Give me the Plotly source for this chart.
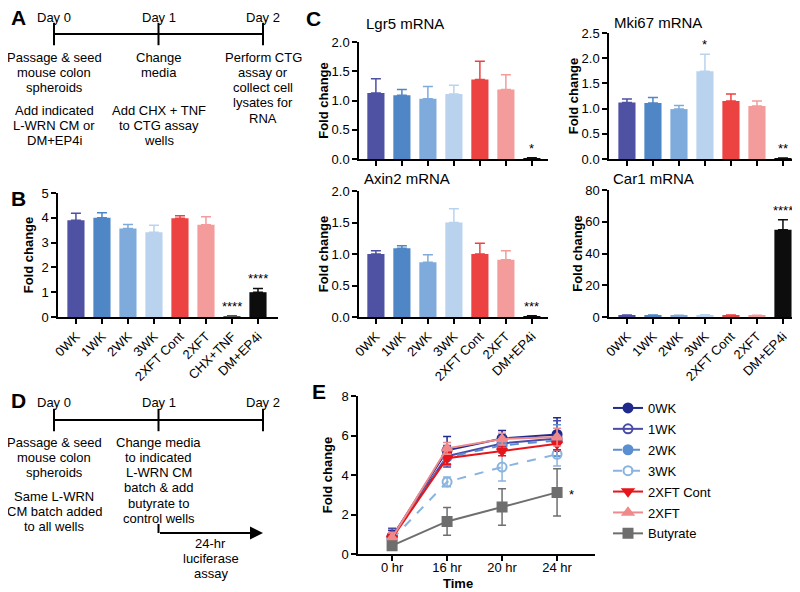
import plotly.graph_objects as go

W, H = 800, 592
OFF = 8  # page body margin the browser adds around the plot div
FONT = "Liberation Sans, Arial, sans-serif"

# ---- panel B: CTG viability ----
b_groups = ["0WK", "1WK", "2WK", "3WK", "2XFT Cont", "2XFT", "CHX+TNF", "DM+EP4i"]
b_mean = [3.9, 4.0, 3.57, 3.42, 3.98, 3.72, 0.03, 1.0]
b_err = [0.28, 0.2, 0.16, 0.28, 0.1, 0.32, 0.02, 0.15]
b_stars = ["", "", "", "", "", "", "****", "****"]
b_colors = ["#4f51a3", "#4f86c6", "#7eabdc", "#b9d3ef", "#ec4242", "#f39c9b", "#555555", "#0d0d0d"]

# ---- panel C: qPCR ----
c_groups = ["0WK", "1WK", "2WK", "3WK", "2XFT Cont", "2XFT", "DM+EP4i"]
c_colors = ["#4f51a3", "#4f86c6", "#7eabdc", "#b9d3ef", "#ec4242", "#f39c9b", "#0d0d0d"]
lgr5_mean = [1.13, 1.09, 1.03, 1.11, 1.36, 1.19, 0.01]
lgr5_err = [0.24, 0.1, 0.21, 0.15, 0.31, 0.25, 0.01]
lgr5_stars = ["", "", "", "", "", "", "*"]
mki67_mean = [1.12, 1.11, 0.99, 1.74, 1.15, 1.05, 0.01]
mki67_err = [0.07, 0.11, 0.07, 0.34, 0.14, 0.1, 0.01]
mki67_stars = ["", "", "", "*", "", "", "**"]
axin2_mean = [1.0, 1.09, 0.87, 1.5, 1.0, 0.91, 0.01]
axin2_err = [0.05, 0.04, 0.12, 0.22, 0.17, 0.14, 0.01]
axin2_stars = ["", "", "", "", "", "", "***"]
car1_mean = [1.0, 0.9, 0.8, 1.1, 1.0, 0.8, 55.0]
car1_err = [0.3, 0.3, 0.3, 0.3, 0.3, 0.3, 6.3]
car1_stars = ["", "", "", "", "", "", "****"]

# ---- panel E: luciferase time course ----
times = ["0 hr", "16 hr", "20 hr", "24 hr"]
e_names = ["0WK", "1WK", "2WK", "3WK", "2XFT Cont", "2XFT", "Butyrate"]
e_mean = [
    [0.85, 5.25, 5.85, 6.05],
    [0.9, 4.95, 5.6, 5.85],
    [0.8, 4.9, 5.5, 5.75],
    [0.75, 3.65, 4.4, 5.05],
    [0.8, 4.85, 5.22, 5.58],
    [0.82, 5.35, 5.82, 5.92],
    [0.42, 1.65, 2.38, 3.12],
]
e_err = [
    [0.35, 0.7, 0.4, 0.85],
    [0.4, 0.55, 0.35, 0.9],
    [0.3, 0.4, 0.3, 0.8],
    [0.3, 0.25, 0.7, 0.6],
    [0.2, 0.3, 0.25, 0.3],
    [0.25, 0.3, 0.3, 0.45],
    [0.2, 0.7, 0.93, 1.2],
]
e_colors = ["#1f2a8c", "#4a4aa8", "#5b8fd0", "#8ab4e0", "#e8141c", "#f08a8a", "#6e6e6e"]
e_symbols = ["circle", "circle-open", "circle", "circle-open", "triangle-down", "triangle-up", "square"]
e_dash = ["solid", "solid", "dash", "dash", "solid", "solid", "solid"]

# ---- timelines (A and D) ----
days = [0, 1, 2]
day_labels = ["Day 0", "Day 1", "Day 2"]
a_text = [
    (0, 57, ["Passage & seed", "mouse colon", "spheroids"]),
    (0, 110, ["Add indicated", "L-WRN CM or", "DM+EP4i"]),
    (1, 57, ["Change", "media"]),
    (1, 110, ["Add CHX + TNF", "to CTG assay", "wells"]),
    (2, 57, ["Perform CTG", "assay or", "collect cell", "lysates for", "RNA"]),
]
d_text = [
    (0, 442, ["Passage & seed", "mouse colon", "spheroids"]),
    (0, 496, ["Same L-WRN", "CM batch added", "to all wells"]),
    (1, 442, ["Change media", "to indicated", "L-WRN CM", "batch & add", "butyrate to", "control wells"]),
    (1.5, 543, ["24-hr", "luciferase", "assay"]),
]


# page pixel -> paper fraction
def px_x(a, b):
    return [(a - OFF) / W, (b - OFF) / W]


def px_y(top, bottom):
    return [1 - (bottom - OFF) / H, 1 - (top - OFF) / H]


fig = go.Figure()
annots = []


def bar_panel(groups, mean, err, colors, stars, xa, ya):
    for g, m, e, c, s in zip(groups, mean, err, colors, stars):
        fig.add_trace(go.Bar(
            x=[g], y=[m], width=0.66, marker=dict(color=c, line=dict(width=0)),
            error_y=dict(type="data", symmetric=False, array=[e], arrayminus=[0],
                         color=c, thickness=1.5, width=5),
            xaxis=xa, yaxis=ya, showlegend=False, hoverinfo="skip"))
        if s:
            annots.append(dict(x=g, y=m + e, xref=xa, yref=ya, text=s, showarrow=False,
                               yanchor="bottom", font=dict(size=13, color="black")))


bar_panel(b_groups, b_mean, b_err, b_colors, b_stars, "x", "y")
bar_panel(c_groups, lgr5_mean, lgr5_err, c_colors, lgr5_stars, "x2", "y2")
bar_panel(c_groups, mki67_mean, mki67_err, c_colors, mki67_stars, "x3", "y3")
bar_panel(c_groups, axin2_mean, axin2_err, c_colors, axin2_stars, "x4", "y4")
bar_panel(c_groups, car1_mean, car1_err, c_colors, car1_stars, "x5", "y5")

for name, m, e, c, sym, dsh in zip(e_names, e_mean, e_err, e_colors, e_symbols, e_dash):
    fig.add_trace(go.Scatter(
        x=times, y=m, name=name, mode="lines+markers",
        line=dict(color=c, width=2, dash=dsh),
        marker=dict(symbol=sym, size=9, color=c, line=dict(color=c, width=2)),
        error_y=dict(type="data", array=e, color=c, thickness=1.5, width=4),
        xaxis="x6", yaxis="y6", legendgroup=name))
annots.append(dict(x=times[-1], y=e_mean[-1][-1], xref="x6", yref="y6", text="*",
                   showarrow=False, xshift=14, yshift=-2, font=dict(size=13, color="black")))

# timeline drawings on a hidden axis whose y is page pixels
for top_y, line_y in [(17, 34), (402, 420)]:
    fig.add_trace(go.Scatter(x=[days[0], days[-1]], y=[line_y, line_y], mode="lines",
                             line=dict(color="black", width=2), xaxis="x7", yaxis="y7",
                             showlegend=False, hoverinfo="skip"))
    fig.add_trace(go.Scatter(x=days, y=[line_y] * 3, mode="markers",
                             marker=dict(symbol="line-ns", size=16, line=dict(color="black", width=2)),
                             xaxis="x7", yaxis="y7", showlegend=False, hoverinfo="skip"))
    for d, lab in zip(days, day_labels):
        annots.append(dict(x=d, y=top_y, xref="x7", yref="y7", text=lab, showarrow=False,
                           font=dict(size=13, color="black")))

for blocks in (a_text, d_text):
    for d, y0, lines in blocks:
        for i, ln in enumerate(lines):
            annots.append(dict(x=d, y=y0 + i * 15.3, xref="x7", yref="y7", text=ln,
                               showarrow=False, font=dict(size=13, color="black")))

# 24-hr arrow
fig.add_trace(go.Scatter(x=[days[1], days[1]], y=[524, 533], mode="lines",
                         line=dict(color="black", width=2), xaxis="x7", yaxis="y7",
                         showlegend=False, hoverinfo="skip"))
annots.append(dict(x=days[2], y=533, ax=days[1], ay=533, xref="x7", yref="y7",
                   axref="x7", ayref="y7", text="", showarrow=True, arrowhead=2,
                   arrowsize=1.3, arrowwidth=2, arrowcolor="black"))

# panel letters
for letter, lx, ly in [("A", 9, 18), ("B", 9, 199), ("C", 304, 19), ("D", 9, 400), ("E", 310, 391)]:
    annots.append(dict(x=(lx - OFF) / W, y=1 - (ly - OFF) / H, xref="paper", yref="paper",
                       text="<b>" + letter + "</b>", showarrow=False, xanchor="left",
                       yanchor="middle", font=dict(size=21, color="black")))

# C panel titles
for t, lx, ly in [("Lgr5 mRNA", 364, 24), ("Mki67 mRNA", 612, 23), ("Axin2 mRNA", 362, 179), ("Car1 mRNA", 611, 179)]:
    annots.append(dict(x=(lx - OFF) / W, y=1 - (ly - OFF) / H, xref="paper", yref="paper", text=t,
                       showarrow=False, xanchor="left", yanchor="middle",
                       font=dict(size=15, color="black")))

annots.append(dict(x=(458 - OFF) / W, y=1 - (583 - OFF) / H, xref="paper", yref="paper",
                   text="<b>Time</b>", showarrow=False, xanchor="center", yanchor="middle",
                   font=dict(size=13, color="black")))

axis_style = dict(showline=True, linecolor="black", linewidth=1.5, ticks="outside", ticklen=5,
                  tickwidth=1.5, tickcolor="black", showgrid=False, zeroline=False,
                  automargin=False, tickfont=dict(size=13, color="black"))


def xcat(dom, groups, rng, anchor, labels=True):
    return dict(axis_style, domain=dom, type="category", categoryorder="array",
                categoryarray=groups, range=rng, anchor=anchor, tickangle=-45,
                showticklabels=labels)


def yval(dom, rng, dtick, fmt, anchor, standoff=0):
    return dict(axis_style, domain=dom, range=rng, dtick=dtick, tickformat=fmt, anchor=anchor,
                title=dict(text="<b>Fold change</b>", font=dict(size=13, color="black"),
                           standoff=standoff))


fig.update_layout(
    width=W, height=H, margin=dict(l=0, r=0, t=0, b=0, autoexpand=False),
    paper_bgcolor="white", plot_bgcolor="rgba(0,0,0,0)",
    font=dict(family=FONT, color="black", size=13),
    barmode="overlay",
    xaxis=xcat(px_x(58, 278), b_groups, [-0.69, 7.77], "y"),
    yaxis=yval(px_y(193, 317), [0, 5], 1, "d", "x", standoff=5),
    xaxis2=xcat(px_x(359, 548), c_groups, [-0.65, 6.62], "y2", labels=False),
    yaxis2=yval(px_y(42, 159), [0, 2], 0.5, ".1f", "x2"),
    xaxis3=xcat(px_x(609, 797), c_groups, [-0.69, 6.54], "y3", labels=False),
    yaxis3=yval(px_y(33, 159), [0, 2.5], 0.5, ".1f", "x3"),
    xaxis4=xcat(px_x(359, 548), c_groups, [-0.65, 6.62], "y4"),
    yaxis4=yval(px_y(191, 317), [0, 2], 0.5, ".1f", "x4"),
    xaxis5=xcat(px_x(609, 797), c_groups, [-0.69, 6.54], "y5"),
    yaxis5=yval(px_y(190, 317), [0, 80], 20, "d", "x5"),
    xaxis6=dict(axis_style, domain=px_x(358, 595), type="category", range=[-0.62, 3.69],
                anchor="y6", ticklabelstandoff=-4),
    yaxis6=yval(px_y(396, 554), [0, 8], 2, "d", "x6", standoff=6),
    xaxis7=dict(domain=[0, 300 / W], range=[(OFF - 54) / 104.5, (OFF + 300 - 54) / 104.5],
                visible=False, anchor="y7", automargin=False),
    yaxis7=dict(domain=[0, 1], range=[H + OFF, OFF], visible=False, anchor="x7", automargin=False),
    legend=dict(x=(608 - OFF) / W, y=1 - (393 - OFF) / H, xanchor="left", yanchor="top",
                font=dict(size=13, color="black"), tracegroupgap=1, bgcolor="rgba(0,0,0,0)"),
    annotations=annots,
)

fig.write_html("out.html")
